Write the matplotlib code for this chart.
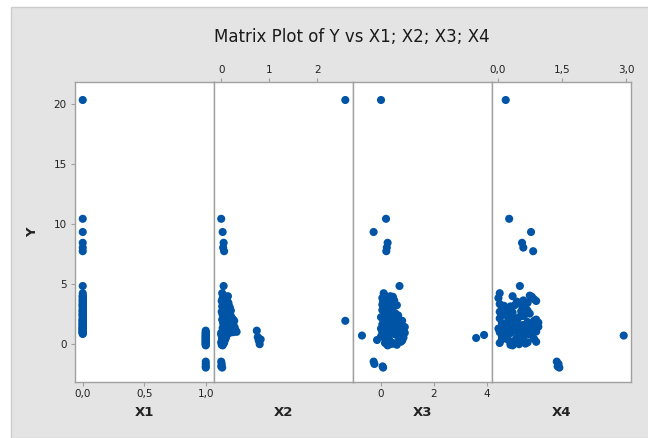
import matplotlib.pyplot as plt
from matplotlib.patches import Rectangle
from matplotlib.ticker import FixedLocator, FuncFormatter

# údaje (odčítané z obrázka)
y_vals = [20.3, 10.4, 9.3, 8.4, 8.0, 7.7, 4.8, 1.9,
          4.2, 4.0, 3.9, 3.8, 3.7, 3.6, 3.5, 3.4, 3.3, 3.2, 3.1, 3.0,
          2.9, 2.8, 2.7, 2.6, 2.5, 2.4, 2.3, 2.2, 2.1, 2.0, 1.95, 1.85,
          1.8, 1.7, 1.65, 1.6, 1.5, 1.45, 1.4, 1.35, 1.3, 1.25, 1.2, 1.15,
          1.1, 1.05, 1.0, 0.95, 0.9, 0.85, 0.8,
          3.95, 3.55, 3.15, 2.75, 2.35, 1.9, 1.55, 1.28, 1.12, 0.98,
          0.88, 1.75, 2.05, 2.65, 3.25, 1.38, 1.62, 2.45, 1.02, 1.18,
          1.08, 0.9, 0.72, 0.67, 0.47, 0.25, 0.35, 0.1, -0.1,
          0.6, 0.5, 0.4, 0.3, 0.2, 0.05, 0.0, -0.15,
          0.75, 0.55, 0.15, -0.05, 0.95, 0.85,
          -1.5, -1.7, -1.9, -2.0]
x1_vals = [0, 0, 0, 0, 0, 0, 0, 0,
           0, 0, 0, 0, 0, 0, 0, 0, 0, 0, 0, 0,
           0, 0, 0, 0, 0, 0, 0, 0, 0, 0, 0, 0,
           0, 0, 0, 0, 0, 0, 0, 0, 0, 0, 0, 0,
           0, 0, 0, 0, 0, 0, 0,
           0, 0, 0, 0, 0, 0, 0, 0, 0, 0,
           0, 0, 0, 0, 0, 0, 0, 0, 0, 0,
           1, 1, 1, 1, 1, 1, 1, 1, 1,
           1, 1, 1, 1, 1, 1, 1, 1,
           1, 1, 1, 1, 1, 1,
           1, 1, 1, 1]
x2_vals = [2.58, 0.00, 0.03, 0.05, 0.04, 0.06, 0.05, 2.58,
           0.02, 0.05, 0.10, 0.03, 0.08, 0.12, 0.04, 0.15, 0.06, 0.10, 0.02, 0.18,
           0.07, 0.12, 0.04, 0.09, 0.15, 0.03, 0.20, 0.06, 0.11, 0.02, 0.17, 0.08,
           0.22, 0.04, 0.13, 0.25, 0.06, 0.19, 0.10, 0.28, 0.03, 0.15, 0.22, 0.08,
           0.30, 0.12, 0.05, 0.25, 0.18, 0.02, 0.10,
           0.14, 0.01, 0.16, 0.20, 0.10, 0.27, 0.14, 0.20, 0.06, 0.32,
           0.15, 0.12, 0.24, 0.01, 0.13, 0.07, 0.18, 0.05, 0.22, 0.27,
           0.74, 0.00, 0.05, 0.03, 0.02, 0.78, 0.82, 0.00, 0.01,
           0.05, 0.10, 0.02, 0.08, 0.04, 0.06, 0.02, 0.03,
           0.00, 0.76, 0.01, 0.80, 0.03, 0.02,
           0.00, 0.01, 0.00, 0.02]
x3_vals = [0.00, 0.19, -0.28, 0.25, 0.22, 0.20, 0.70, 0.10,
           0.10, 0.15, 0.45, 0.05, 0.30, 0.50, 0.08, 0.40, 0.20, 0.60, 0.10, 0.35,
           0.25, 0.05, 0.45, 0.20, 0.55, 0.10, 0.30, 0.00, 0.40, 0.15, 0.35, 0.60,
           0.10, 0.25, 0.50, 0.05, 0.30, 0.70, 0.15, 0.45, 0.85, 0.00, 0.35, 0.55,
           0.20, 0.75, 0.10, 0.40, 0.90, 0.25, 0.60,
           0.35, 0.25, 0.45, 0.10, 0.65, 0.80, 0.20, 0.60, 0.05, 0.30,
           0.75, 0.50, 0.15, 0.35, 0.05, 0.90, 0.40, 0.25, 0.50, 0.10,
           0.30, 0.50, 3.90, -0.72, 3.60, 0.80, 0.20, 0.40, 0.60,
           0.00, 0.85, 0.30, -0.15, 0.65, 0.15, 0.45, 0.25,
           0.55, 0.10, 0.75, 0.35, 0.05, 0.70,
           -0.28, -0.25, 0.06, 0.08]
x4_vals = [0.19, 0.27, 0.78, 0.57, 0.60, 0.83, 0.52, 0.40,
           0.05, 0.75, 0.80, 0.02, 0.85, 0.60, 0.45, 0.70, 0.05, 0.40, 0.30, 0.65,
           0.10, 0.20, 0.55, 0.35, 0.75, 0.15, 0.60, 0.50, 0.05, 0.90, 0.25, 0.45,
           0.70, 0.10, 0.85, 0.30, 0.55, 0.15, 0.95, 0.40, 0.65, 0.02, 0.80, 0.25,
           0.50, 0.35, 0.90, 0.05, 0.60, 0.20, 0.75,
           0.35, 0.90, 0.15, 0.70, 0.25, 0.85, 0.60, 0.10, 0.45, 0.80,
           0.30, 0.95, 0.40, 0.05, 0.55, 0.75, 0.20, 0.65, 0.15, 0.50,
           0.50, 0.30, 0.20, 2.94, 0.60, 0.40, 0.10, 0.70, 0.30,
           0.10, 0.45, 0.85, 0.25, 0.55, 0.05, 0.65, 0.35,
           0.75, 0.20, 0.90, 0.50, 0.60, 0.15,
           1.38, 1.42, 1.40, 1.44]

x_names = ["X1", "X2", "X3", "X4"]
x_data = [x1_vals, x2_vals, x3_vals, x4_vals]
x_limits = [(-0.063, 1.067), (-0.15, 2.74), (-1.06, 4.2), (-0.13, 3.11)]
x_ticks = [[0.0, 0.5, 1.0], [0, 1, 2], [0, 2, 4], [0.0, 1.5, 3.0]]
x_tick_fmt = ["{:.1f}", "{:.0f}", "{:.0f}", "{:.1f}"]
ticks_on_top = [False, True, False, True]
y_ticks = [0, 5, 10, 15, 20]

W, H = 648, 438
fig = plt.figure(figsize=(W / 100, H / 100), dpi=100)
fig.patch.set_facecolor("white")
fig.patches.append(Rectangle((11 / W, 0), 1, 1 - 7 / H, transform=fig.transFigure,
                             facecolor="#e4e4e4", edgecolor="#cccccc", lw=1.0, zorder=-10))

left, right, top, bottom = 75 / W, 631 / W, 1 - 82 / H, 1 - 382 / H
pw = (right - left) / 4
frame_col = "#a0a0a0"
dot_col = "#0054a6"

for i in range(4):
    ax = fig.add_axes([left + i * pw, bottom, pw, top - bottom])
    ax.scatter(x_data[i], y_vals, s=34, color=dot_col, edgecolors="none", zorder=3)
    ax.set_xlim(*x_limits[i])
    ax.set_ylim(-3.2, 21.8)
    for sp in ax.spines.values():
        sp.set_color(frame_col)
        sp.set_linewidth(1.0)
    ax.xaxis.set_major_locator(FixedLocator(x_ticks[i]))
    fmt = x_tick_fmt[i]
    ax.xaxis.set_major_formatter(FuncFormatter(lambda v, p, f=fmt: f.format(v).replace(".", ",")))
    if ticks_on_top[i]:
        ax.tick_params(axis="x", bottom=False, labelbottom=False, top=True, labeltop=True)
    ax.tick_params(axis="x", length=3, width=0.8, color=frame_col, labelsize=7.5,
                   labelcolor="#222222", pad=2)
    if i == 0:
        ax.yaxis.set_major_locator(FixedLocator(y_ticks))
        ax.tick_params(axis="y", length=3, width=0.8, color=frame_col, labelsize=7.5,
                       labelcolor="#222222", pad=3)
    else:
        ax.tick_params(axis="y", left=False, labelleft=False)
    fig.text(left + (i + 0.5) * pw, 1 - 412 / H, x_names[i], ha="center", va="center",
             fontsize=9.5, fontweight="semibold", color="#222222")

fig.text(33 / W, 1 - 232 / H, "Y", rotation=90, ha="center", va="center",
         fontsize=9.5, fontweight="semibold", color="#222222")
fig.text(352 / W, 1 - 37 / H, "Matrix Plot of Y vs X1; X2; X3; X4", ha="center", va="center",
         fontsize=12, color="#1a1a1a")

fig.savefig("out.png", dpi=100)
